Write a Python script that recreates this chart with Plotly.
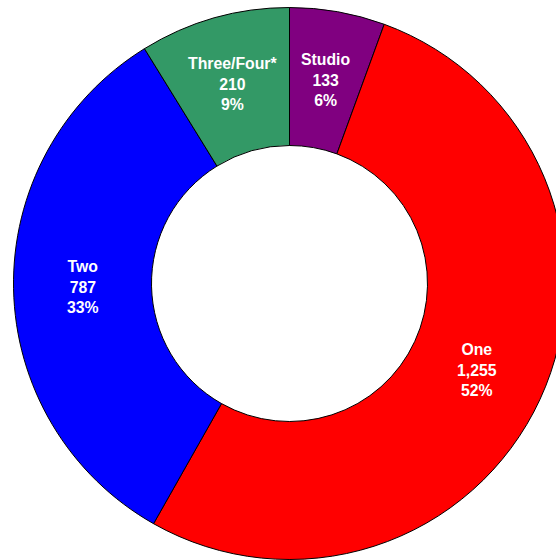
import math
import plotly.graph_objects as go

# Unit mix by bedroom count
categories = ["Studio", "One", "Two", "Three/Four*"]
units = [133, 1255, 787, 210]
unit_labels = ["133", "1,255", "787", "210"]
share_labels = ["6%", "52%", "33%", "9%"]
colors = ["#800080", "#FF0000", "#0000FF", "#339966"]

W, H = 579, 567
cx, cy, R = 289.5, 283.5, 276  # ring centre and outer radius, px
HOLE = 0.5
FONT = "Liberation Sans, Arial, sans-serif"

fig = go.Figure(
    go.Pie(
        labels=categories,
        values=units,
        textinfo="none",
        hole=HOLE,
        sort=False,
        direction="clockwise",
        rotation=0,
        marker=dict(colors=colors, line=dict(color="#000000", width=1)),
        hoverinfo="label+value+percent",
        domain=dict(
            x=[(cx - R) / W, (cx + R) / W],
            y=[(H - cy - R) / H, (H - cy + R) / H],
        ),
    )
)

# Slice labels sit on each slice's bisector, halfway across the ring
total = sum(units)
r_mid = R * (1 + HOLE) / 2
start = 0.0
for cat, ul, sl, v in zip(categories, unit_labels, share_labels, units):
    sweep = 360.0 * v / total
    theta = math.radians(start + sweep / 2)
    px = cx + r_mid * math.sin(theta)
    py = cy - r_mid * math.cos(theta)
    fig.add_annotation(
        x=px / W,
        y=1 - py / H,
        xref="paper",
        yref="paper",
        text=f"{cat}<br>{ul}<br>{sl}",
        showarrow=False,
        xanchor="center",
        yanchor="middle",
        align="center",
        font=dict(family=FONT, size=15.8, color="white", weight="bold"),
    )
    start += sweep

fig.update_layout(
    width=W,
    height=H,
    margin=dict(l=0, r=0, t=0, b=0),
    paper_bgcolor="white",
    plot_bgcolor="white",
    showlegend=False,
    font=dict(family=FONT),
)

fig.write_html(
    "out.html",
    config={"displayModeBar": False},
    post_script="document.body.style.margin='0';document.body.style.overflow='hidden';document.documentElement.style.overflow='hidden';",
)
